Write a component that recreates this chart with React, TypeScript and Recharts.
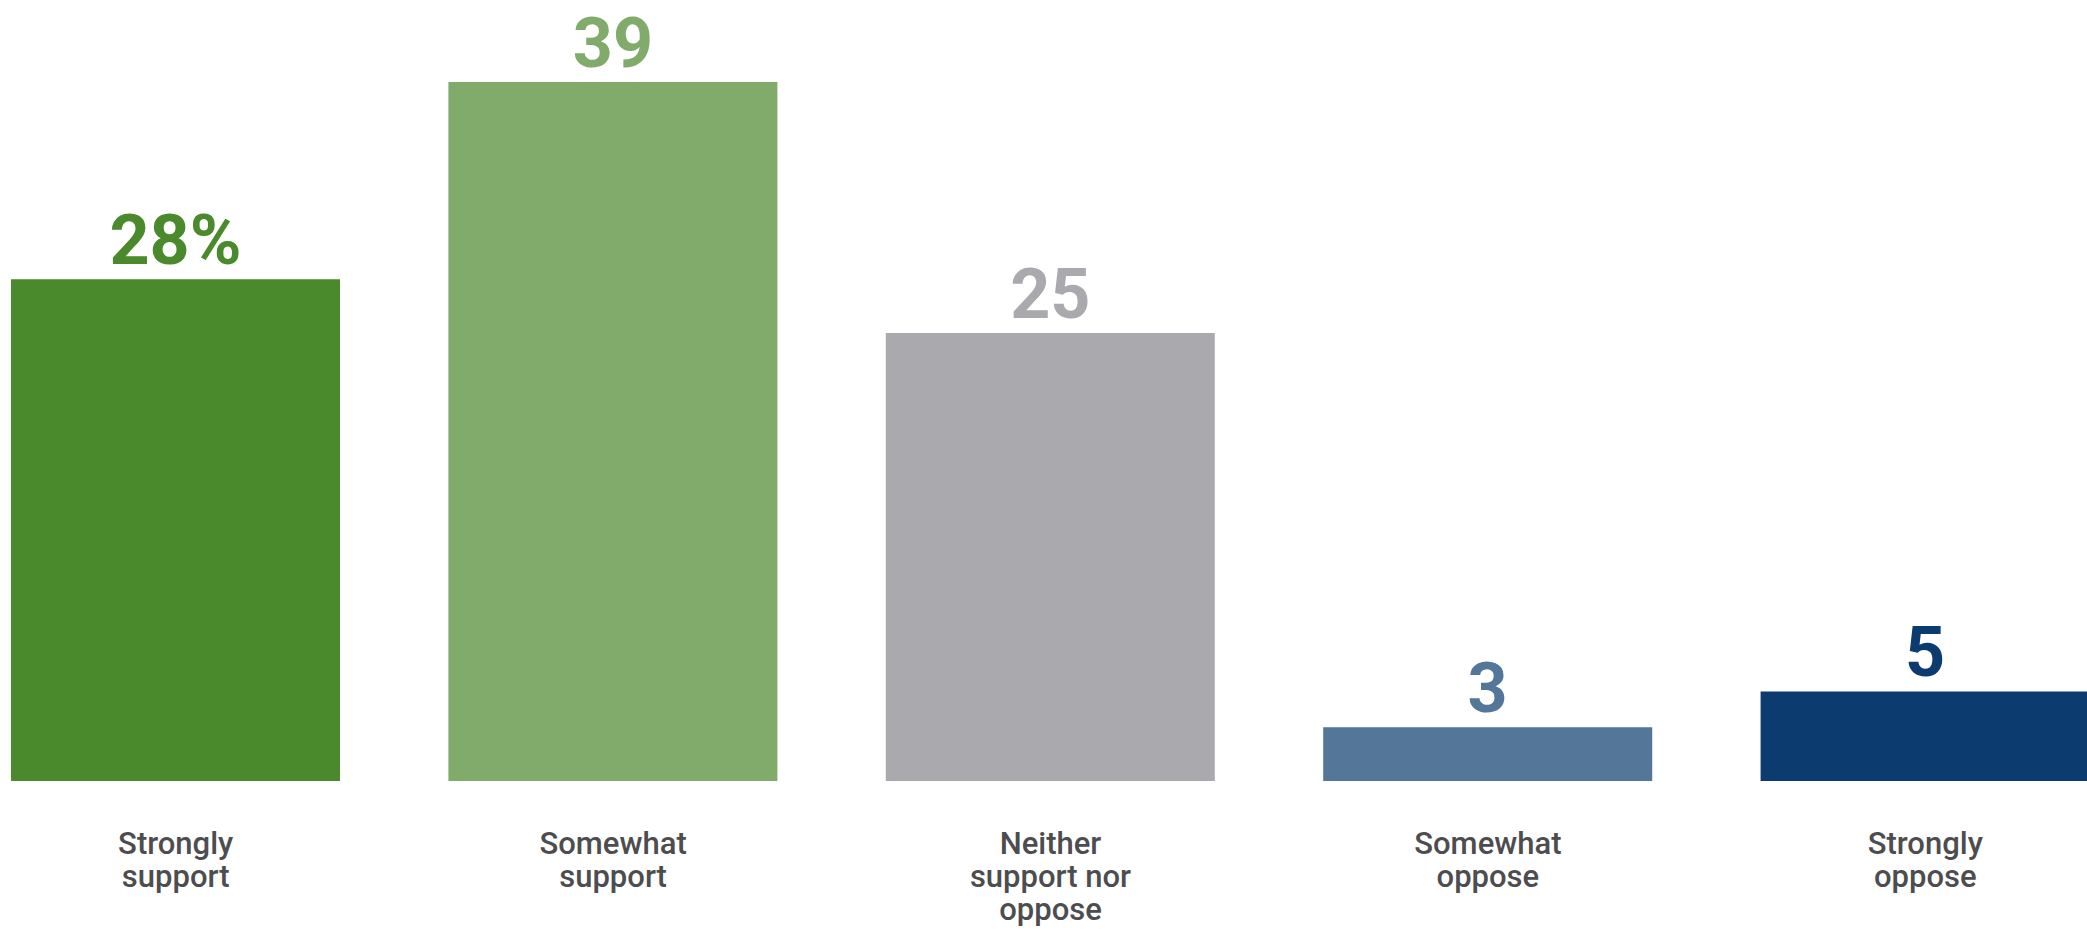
import { Bar, BarChart, Cell, XAxis, YAxis } from "recharts"

const categories = [
  "Strongly\nsupport",
  "Somewhat\nsupport",
  "Neither\nsupport nor\noppose",
  "Somewhat\noppose",
  "Strongly\noppose",
]
const shares = [28, 39, 25, 3, 5]
const valueLabels = ["28%", "39", "25", "3", "5"]
const barColors = ["#4A892C", "#80AB6B", "#AAA9AE", "#537699", "#0B3B6F"]

const data = categories.map((name, i) => ({ name, value: shares[i] }))

function CategoryTick({ x, y, payload }: any) {
  const lines = String(payload.value).split("\n")
  return (
    <text
      x={x}
      y={y}
      textAnchor="middle"
      fill="#4D4D4F"
      fontFamily="Roboto, sans-serif"
      fontWeight={500}
      fontSize={31}
    >
      {lines.map((line, i) => (
        <tspan key={i} x={x} dy={i === 0 ? 65 : 33}>
          {line}
        </tspan>
      ))}
    </text>
  )
}

function ValueLabel({ x, y, width, index }: any) {
  return (
    <text
      x={x + width / 2}
      y={y - 15}
      textAnchor="middle"
      fill={barColors[index]}
      fontFamily="Roboto, sans-serif"
      fontWeight={700}
      fontSize={70}
    >
      {valueLabels[index]}
    </text>
  )
}

export default function App() {
  return (
    <div
      style={{
        position: "fixed",
        left: 0,
        top: 0,
        width: 2087,
        height: 930,
        overflow: "hidden",
        background: "#fff",
      }}
    >
      <div style={{ marginLeft: -43 }}>
        <BarChart
          width={2187}
          height={930}
          data={data}
          margin={{ top: 82, right: 0, bottom: 0, left: 0 }}
          barCategoryGap={54}
        >
          <XAxis
            dataKey="name"
            axisLine={false}
            tickLine={false}
            interval={0}
            height={149}
            tick={<CategoryTick />}
          />
          <YAxis hide domain={[0, 39]} />
          <Bar dataKey="value" isAnimationActive={false} label={<ValueLabel />}>
            {data.map((_, i) => (
              <Cell key={i} fill={barColors[i]} />
            ))}
          </Bar>
        </BarChart>
      </div>
    </div>
  )
}
